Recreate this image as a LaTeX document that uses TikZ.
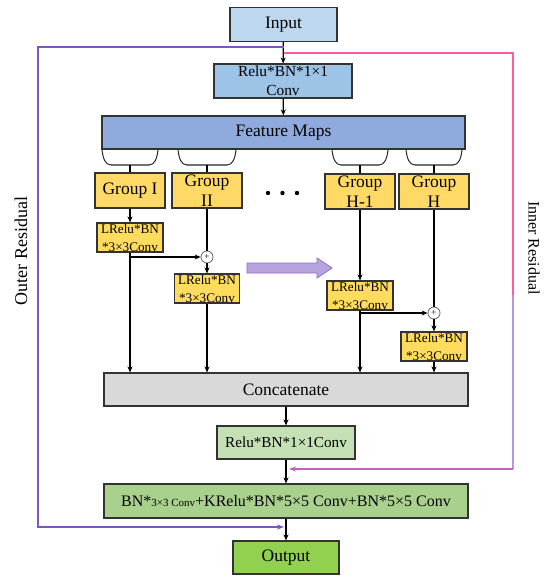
\documentclass[tikz,border=0pt]{standalone}
\usepackage{fontspec}
\setmainfont{Liberation Serif}
\usetikzlibrary{arrows.meta}
\definecolor{cIn}{HTML}{BDD7EE}
\definecolor{cRa}{HTML}{9DC3E6}
\definecolor{cFm}{HTML}{8FAADC}
\definecolor{cGr}{HTML}{FFD966}
\definecolor{cLr}{HTML}{FFDC5E}
\definecolor{cCc}{HTML}{D9D9D9}
\definecolor{cRb}{HTML}{C5E0B4}
\definecolor{cBg}{HTML}{A9D18E}
\definecolor{cOut}{HTML}{92D050}
\definecolor{cPurp}{HTML}{7B55C0}
\definecolor{cPink}{HTML}{FF5C9E}
\definecolor{cLav}{HTML}{B898D8}
\definecolor{cMag}{HTML}{C45EC0}
\definecolor{cFat}{HTML}{B7A3DE}
\definecolor{cFatB}{HTML}{8E6FC0}
\tikzset{
  box/.style={draw=black!80, line width=1.1pt, inner sep=0pt, align=center},
  bigtxt/.style={font=\fontsize{17.5}{20}\selectfont},
  grp/.style={box, fill=cGr, minimum width=70pt, minimum height=35pt, font=\fontsize{17.5}{20}\selectfont},
  lrl/.style={box, fill=cLr, minimum width=66pt, minimum height=29pt, font=\fontsize{13.2}{18}\selectfont},
  plus/.style={circle, draw=black!65, fill=white, line width=0.7pt, minimum size=12pt, inner sep=0pt},
  arr/.style={line width=1.3pt, -{Stealth[length=6pt,width=5pt]}},
  ln/.style={line width=1.3pt},
  brc/.style={line width=1pt, black!85},
}
\begin{document}
\begin{tikzpicture}[x=1pt,y=-1pt]
\useasboundingbox (0,0) rectangle (550,580);
\fill[white] (0,0) rectangle (550,580);

% main column
\node[box, fill=cIn, minimum width=107pt, minimum height=34pt, bigtxt] (in) at (283.5,24.5) {Input};
\node[box, fill=cRa, minimum width=138pt, minimum height=34pt, font=\fontsize{15.4}{19}\selectfont] (ra) at (283,81) {Relu*BN*1×1\\Conv};
\node[box, fill=cFm, minimum width=363pt, minimum height=33pt, bigtxt] (fm) at (283.5,132.5) {Feature Maps};

% groups
\node[grp] (g1) at (130,190.5) {Group I};
\node[grp] (g2) at (207,190.5) {Group\\II};
\node[grp] (g3) at (360,191.5) {Group\\H-1};
\node[grp] (g4) at (434,191.5) {Group\\H};

% dots
\fill (268,193) circle (2.2pt);
\fill (282.5,193) circle (2.2pt);
\fill (297,193) circle (2.2pt);

% braces
\foreach \xl/\xr/\nm in {102/158/k1, 178/236/k2, 332/388/k3, 406/462/k4}{
  \draw[brc] (\xl,150) .. controls (\xl+1,158) and (\xl+3,165) .. (\xl+9,165) -- (\xr-9,165) .. controls (\xr-3,165) and (\xr-1,158) .. (\xr,150);
  \coordinate (\nm) at ({(\xl+\xr)/2},165);
}
\draw[ln] (k1) -- (g1.north);
\draw[ln] (k2) -- (g2.north);
\draw[ln] (k3) -- (g3.north);
\draw[ln] (k4) -- (g4.north);

% LRelu boxes
\node[lrl] (l1) at (130,237.5) {LRelu*BN\\*3×3Conv};
\node[lrl, minimum width=65pt] (l2) at (207,288.5) {LRelu*BN\\*3×3Conv};
\node[lrl] (l3) at (360,295.5) {LRelu*BN\\*3×3Conv};
\node[lrl] (l4) at (434,346.5) {LRelu*BN\\*3×3Conv};

% plus nodes
\node[plus] (p1) at (207,257) {\fontsize{9}{9}\selectfont +};
\node[plus] (p2) at (434,313) {\fontsize{9}{9}\selectfont +};

% concatenate and lower column
\node[box, fill=cCc, minimum width=364pt, minimum height=33pt, bigtxt] (cc) at (286,389.5) {Concatenate};
\node[box, fill=cRb, minimum width=138pt, minimum height=33pt, font=\fontsize{15.2}{18}\selectfont] (rb) at (286,442.5) {Relu*BN*1×1Conv};
\node[box, fill=cBg, minimum width=364pt, minimum height=34pt, font=\fontsize{16}{18}\selectfont] (bg) at (286,501) {BN*{\fontsize{11}{13}\selectfont 3×3 Conv}+KRelu*BN*5×5 Conv+BN*5×5 Conv};
\node[box, fill=cOut, minimum width=106pt, minimum height=33pt, bigtxt] (out) at (286,557.5) {Output};

% fat arrow
\filldraw[fill=cFat, draw=cFatB, line width=0.8pt] (247,263) -- (317,263) -- (317,258) -- (332,268) -- (317,278) -- (317,273) -- (247,273) -- cycle;

% main arrows
\draw[arr] (in) -- (ra);
\draw[arr] (ra) -- (fm);
\draw[arr] (g1) -- (l1);
\draw[arr] (l1) -- (l1 |- cc.north);
\coordinate (b1) at (130,257);
\draw[arr] (b1) -- (p1);
\draw[ln] (g2) -- (p1);
\draw[arr] (p1) -- (l2);
\draw[arr] (l2) -- (l2 |- cc.north);
\draw[arr] (g3) -- (l3);
\draw[arr] (l3) -- (l3 |- cc.north);
\coordinate (b2) at (360,313);
\draw[arr] (b2) -- (p2);
\draw[ln] (g4) -- (p2);
\draw[arr] (p2) -- (l4);
\draw[arr] (l4) -- (l4 |- cc.north);
\draw[arr] (cc.south -| rb) -- (rb);
\draw[arr] (rb) -- (bg);
\draw[arr] (bg) -- (out);

% outer residual
\coordinate (oa) at (283.5,47);
\coordinate (ob) at (38,47);
\coordinate (oc) at (38,527);
\coordinate (od) at (284,527);
\draw[cPurp, line width=1.3pt, -{Stealth[length=7pt,width=5pt]}] (oa) -- (ob) -- (oc) -- (od);

% inner residual
\coordinate (ia) at (284,53);
\coordinate (ib) at (513,53);
\coordinate (ic) at (513,295);
\coordinate (id) at (513,469);
\coordinate (ie) at (289,469);
\draw[cPink, line width=1.3pt] (ia) -- (ib) -- (ic);
\draw[cLav, line width=1.3pt] (ic) -- (id);
\draw[cMag, line width=1.3pt, -{Stealth[length=7pt,width=5pt]}] (id) -- (ie);

% labels
\node[rotate=90, font=\fontsize{18}{20}\selectfont] (lo) at (21,251) {Outer Residual};
\node[rotate=-90, font=\fontsize{16}{18}\selectfont] (li) at (534,248) {Inner Residual};
\end{tikzpicture}
\end{document}
